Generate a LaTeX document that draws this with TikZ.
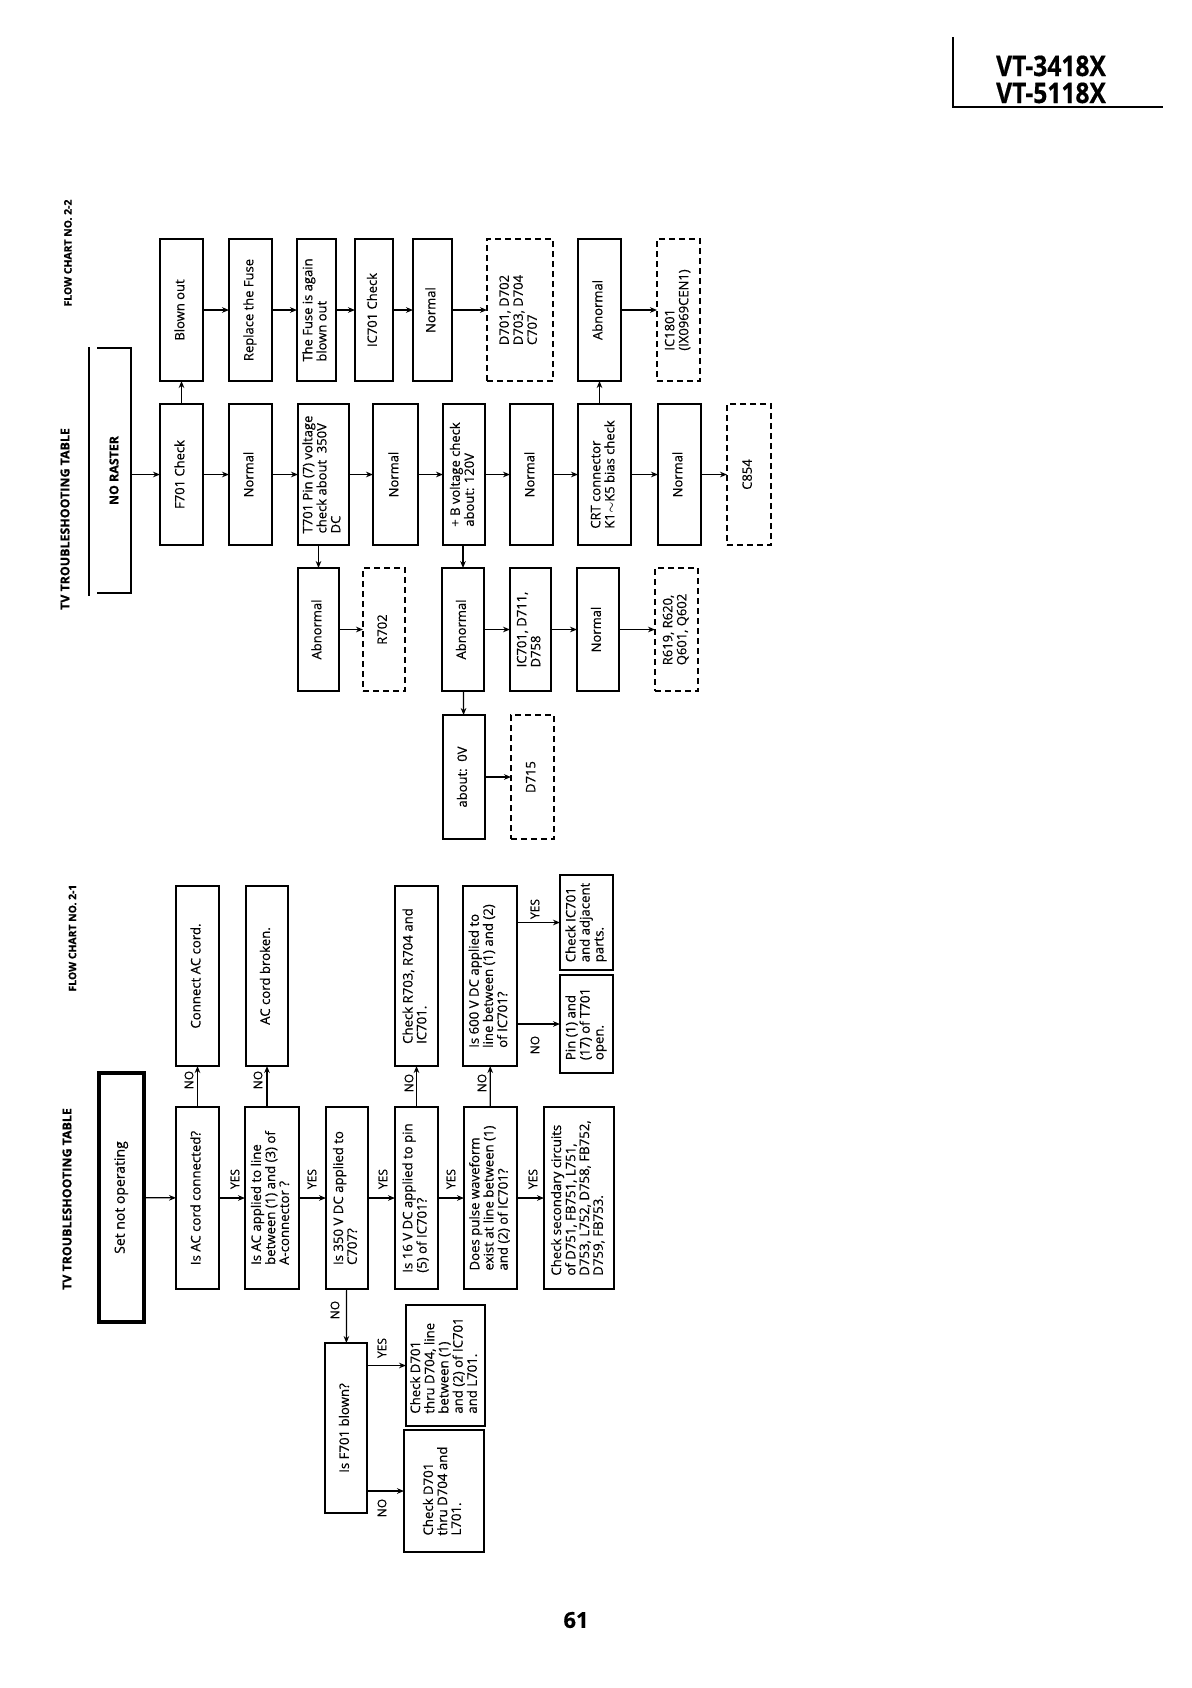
\documentclass[tikz,border=0pt]{standalone}
\usepackage{fontspec}
\setmainfont{Open Sans}[RawFeature={embolden=0.5}]
\usetikzlibrary{arrows.meta}
\newcommand\boxn[7][box]{\node[#1,minimum width={(#5-#3)*0.5pt},minimum height={(#6-#4)*0.5pt}] (#2) at ({(#3+#5)/2},{(#4+#6)/2}) {\rotatebox{90}{\begin{tabular}{@{}l@{}}#7\end{tabular}}};}
\begin{document}
\begin{tikzpicture}[x=0.5pt,y=-0.5pt,
  box/.style={draw,line width=0.8pt,inner sep=0pt,outer sep=0pt,font=\fontsize{6.5}{7}\selectfont},
  dbox/.style={box,line width=0.6pt,dash pattern=on 3pt off 2pt},
  tbox/.style={box,line width=1.1pt,font=\fontsize{6.6}{6.9}\selectfont},
  bbox/.style={box,font=\fontsize{6.6}{6.9}\selectfont},
  sbox/.style={box,line width=1.6pt,font=\fontsize{7}{8}\selectfont},
  arr/.style={-{Stealth[length=3.5pt,width=2.8pt]},line width=0.6pt},
  lab/.style={inner sep=0pt,font=\fontsize{6}{6}\selectfont},
  ttl/.style={inner sep=0pt,font=\bfseries\fontsize{6.2}{7}\selectfont},
  fc/.style={inner sep=0pt,font=\bfseries\fontsize{5.2}{6}\selectfont},
  hd/.style={inner sep=0pt,font=\bfseries\fontsize{12.3}{13}\selectfont}]
\fill[white] (0,0) rectangle (1192,1688);
\useasboundingbox (0,0) rectangle (1192,1688);
% header
\node[hd,anchor=base] (hdr1) at (1051,76) {\scalebox{1}[1.15]{VT-3418X}};
\node[hd,anchor=base] (hdr2) at (1051,103) {\scalebox{1}[1.15]{VT-5118X}};
\draw[line width=1pt] (953,37) -- (953,107) -- (1163,107);
\node[inner sep=0pt,font=\bfseries\fontsize{11}{12}\selectfont] (pg) at (576,1620) {61};
% ---------------- chart 2-2 ----------------
\node[fc] (fc2) at (68,253) {\rotatebox{90}{FLOW CHART NO. 2-2}};
\node[ttl] (tt2) at (65,519) {\rotatebox{90}{TV TROUBLESHOOTING TABLE}};
\node[inner sep=0pt,outer sep=0pt,minimum width=17pt,minimum height=122.5pt,font=\bfseries\fontsize{6.2}{7}\selectfont] (nr) at (114,470.5) {\rotatebox{90}{NO RASTER}};
\draw[line width=1pt] (nr.north west) -- (nr.north east) -- (nr.south east) -- (nr.south west);
\draw[line width=1pt] ([shift={(-8,-1)}]nr.north west) -- ([shift={(-8,3)}]nr.south west);
% upper row
\boxn{blown}{160}{239}{203}{381}{Blown out}
\boxn{repl}{229}{239}{272}{381}{Replace the Fuse}
\boxn{again}{297}{239}{336}{381}{The Fuse is again\\blown out}
\boxn{icchk}{355}{239}{393}{381}{IC701 Check}
\boxn{normu}{413}{239}{452}{381}{Normal}
\boxn[dbox]{dd}{487}{239}{553}{381}{D701, D702\\D703, D704\\C707}
\boxn{abnu}{578}{239}{621}{381}{Abnormal}
\boxn[dbox]{ic18}{657}{239}{700}{381}{IC1801\\(IX0969CEN1)}
% middle row
\boxn{f701}{160}{404}{203}{545}{F701 Check}
\boxn{n1}{229}{404}{272}{545}{Normal}
\boxn{t701}{298}{404}{349}{545}{T701 Pin (7) voltage\\check about\ \ 350V\\DC}
\boxn{n2}{373}{404}{418}{545}{Normal}
\boxn{pb}{443}{404}{485}{545}{+ B voltage check\\about: 120V}
\boxn{n3}{510}{404}{553}{545}{Normal}
\boxn{crt}{578}{404}{631}{545}{CRT connector\\K1$\sim$K5 bias check}
\boxn{n4}{658}{404}{701}{545}{Normal}
\boxn[dbox]{c854}{727}{404}{771}{545}{C854}
% lower rows
\boxn{abn1}{298}{568}{339}{691}{Abnormal}
\boxn[dbox]{r702}{363}{568}{405}{691}{R702}
\boxn{abn2}{442}{568}{484}{691}{Abnormal}
\boxn{icd}{510}{568}{551}{691}{IC701, D711,\\D758}
\boxn{n5}{577}{568}{619}{691}{Normal}
\boxn[dbox]{r619}{655}{568}{698}{691}{R619, R620,\\Q601, Q602}
\boxn{ov}{443}{715}{485}{839}{about:\ \ 0V}
\boxn[dbox]{d715}{511}{715}{554}{839}{D715}
% connectors 2-2
\draw[arr] (nr.east |- f701.west) -- (f701.west);
\draw[arr] (f701) -- (blown);
\draw[arr] (blown) -- (repl);
\draw[arr] (repl) -- (again);
\draw[arr] (again) -- (icchk);
\draw[arr] (icchk) -- (normu);
\draw[arr] (normu) -- (dd);
\draw[arr] (abnu) -- (ic18);
\draw[arr] (f701) -- (n1);
\draw[arr] (n1) -- (t701);
\draw[arr] (t701) -- (n2);
\draw[arr] (n2) -- (pb);
\draw[arr] (pb) -- (n3);
\draw[arr] (n3) -- (crt);
\draw[arr] (crt) -- (n4);
\draw[arr] (n4) -- (c854);
\draw[arr] (abnu.south |- crt.north) -- (abnu.south);
\draw[arr] (abn1.north |- t701.south) -- (abn1.north);
\draw[arr] (abn1) -- (r702);
\draw[arr] (abn2.north |- pb.south) -- (abn2.north);
\draw[arr] (abn2) -- (icd);
\draw[arr] (icd) -- (n5);
\draw[arr] (n5) -- (r619);
\draw[arr] (abn2) -- (ov);
\draw[arr] (ov) -- (d715);
% ---------------- chart 2-1 ----------------
\node[fc] (fc1) at (72.5,938) {\rotatebox{90}{FLOW CHART NO. 2-1}};
\node[ttl] (tt1) at (67,1199) {\rotatebox{90}{TV TROUBLESHOOTING TABLE}};
\boxn[sbox]{set}{99}{1073}{144}{1322}{Set not operating}
\boxn[bbox]{q1}{176}{1107}{219}{1289}{Is AC cord connected?}
\boxn[bbox]{q2}{245}{1107}{299}{1289}{Is AC applied to line\\between (1) and (3) of\\A-connector ?}
\boxn[bbox]{q3}{326}{1107}{368}{1289}{Is 350 V DC applied to\\C707?}
\boxn[bbox]{q4}{395}{1107}{438}{1289}{Is 16 V DC applied to pin\\(5) of IC701?}
\boxn[bbox]{q5}{464}{1107}{517}{1289}{Does pulse waveform\\exist at line between (1)\\and (2) of IC701?}
\boxn[bbox]{sec}{544}{1107}{614}{1289}{Check secondary circuits\\of D751, FB751, L751,\\D753, L752, D758, FB752,\\D759, FB753.}
\boxn[bbox]{conn}{176}{886}{219}{1066}{Connect AC cord.}
\boxn[bbox]{brk}{246}{886}{288}{1066}{AC cord broken.}
\boxn[bbox]{r703}{395}{886}{438}{1066}{Check R703, R704 and\\IC701.}
\boxn[tbox]{q600}{463}{886}{517}{1066}{Is 600 V DC applied to\\line between (1) and (2)\\of IC701?}
\boxn[tbox]{chkic}{560}{875}{613}{970}{Check IC701\\and adjacent\\parts.}
\boxn[tbox]{pin}{560}{975}{613}{1073}{Pin (1) and\\(17) of T701\\open.}
\boxn[bbox]{f701b}{325}{1343}{367}{1513}{Is F701 blown?}
\boxn[tbox]{cd1}{406}{1305}{485}{1426}{Check D701\\thru D704, line\\between (1)\\and (2) of IC701\\and L701.}
\boxn[tbox]{cd2}{404}{1430}{484}{1552}{Check D701\\thru D704 and\\L701.}
% connectors 2-1
\draw[arr] (set) -- (q1);
\draw[arr] (q1) -- (q2);
\draw[arr] (q2) -- (q3);
\draw[arr] (q3) -- (q4);
\draw[arr] (q4) -- (q5);
\draw[arr] (q5) -- (sec);
\draw[arr] (q1) -- (conn);
\draw[arr] (brk.south |- q2.north) -- (brk.south);
\draw[arr] (q4) -- (r703);
\draw[arr] (q5) -- (q600);
\draw[arr] (q600.east |- chkic.west) -- (chkic.west);
\draw[arr] (q600.east |- pin.west) -- (pin.west);
\draw[arr] (q3) -- (f701b);
\draw[arr] (f701b.east |- cd1.west) -- (cd1.west);
\draw[arr] (f701b.east |- cd2.west) -- (cd2.west);
% labels
\node[lab] (l1) at (235,1179) {\rotatebox{90}{YES}};
\node[lab] (l2) at (312,1179) {\rotatebox{90}{YES}};
\node[lab] (l3) at (383,1179) {\rotatebox{90}{YES}};
\node[lab] (l4) at (451,1179) {\rotatebox{90}{YES}};
\node[lab] (l5) at (533,1179) {\rotatebox{90}{YES}};
\node[lab] (l6) at (189,1080) {\rotatebox{90}{NO}};
\node[lab] (l7) at (258,1080) {\rotatebox{90}{NO}};
\node[lab] (l8) at (409,1083) {\rotatebox{90}{NO}};
\node[lab] (l9) at (482,1083) {\rotatebox{90}{NO}};
\node[lab] (l10) at (535,909) {\rotatebox{90}{YES}};
\node[lab] (l11) at (535,1045) {\rotatebox{90}{NO}};
\node[lab] (l12) at (335,1310) {\rotatebox{90}{NO}};
\node[lab] (l13) at (382,1348) {\rotatebox{90}{YES}};
\node[lab] (l14) at (382,1508) {\rotatebox{90}{NO}};
\end{tikzpicture}
\end{document}
